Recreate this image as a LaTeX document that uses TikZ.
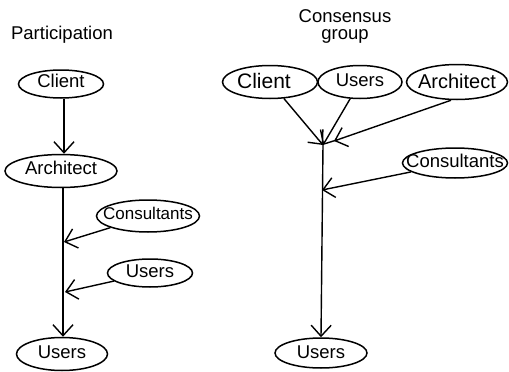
\documentclass[tikz,border=0pt]{standalone}
\usepackage{fontspec}
\setmainfont{Liberation Sans}
\usetikzlibrary{shapes.geometric,arrows.meta}

\begin{document}
\begin{tikzpicture}[x=1pt,y=-1pt,
    ruolo/.style={ellipse,draw,line width=1.5pt,inner sep=0pt},
    freccia/.style={line width=1.4pt,-{Straight Barb[length=11pt,width=20pt]}},
    titolo/.style={align=center,inner sep=0pt}]
  \fontsize{18.5}{17}\selectfont
  \useasboundingbox (0,0) rectangle (509,372);

  % ---- titoli --------------------------------------------------------------
  \node[titolo] (tP) at (62,35) {Participation};
  \node[titolo] (tC) at (345,26) {Consensus\\group};

  % ---- partecipazione ------------------------------------------------------
  \node[ruolo,minimum width=85,minimum height=28,label={[yshift=3pt]center:Client}]      (pCli) at (61,84)   {};
  \node[ruolo,minimum width=112,minimum height=33,label={[yshift=3pt]center:Architect}]  (pArc) at (61,171)  {};
  \node[ruolo,minimum width=103,minimum height=32,label={[yshift=3pt,font=\fontsize{17}{17}\selectfont]center:Consultants}] (pCon) at (148,216) {};
  \node[ruolo,minimum width=85,minimum height=28,label={[yshift=2pt]center:Users}]       (pUse) at (150,273) {};
  \node[ruolo,minimum width=91,minimum height=33,label={[yshift=2pt]center:Users}]       (pUsr) at (62,354)  {};

  \coordinate (m1) at (64,242);
  \coordinate (m2) at (65,292);

  \draw[freccia] ([xshift=3pt]pCli.south) -- ([xshift=3pt]pArc.north);
  \draw[freccia] ([xshift=2pt]pArc.south) -- ([xshift=1pt]pUsr.north);
  \draw[freccia] (pCon) -- (m1);
  \draw[freccia] (pUse) -- (m2);

  % ---- gruppo di consenso --------------------------------------------------
  \node[ruolo,minimum width=95,minimum height=33,label={[xshift=-6pt,yshift=1pt,font=\fontsize{21}{21}\selectfont]center:Client}] (cCli) at (270,82) {};
  \node[ruolo,minimum width=84,minimum height=33,label={[yshift=2pt]center:Users}]        (cUse) at (360,82)  {};
  \node[ruolo,minimum width=101,minimum height=35,label={[yshift=1pt,font=\fontsize{20}{20}\selectfont]center:Architect}] (cArc) at (457,82)  {};
  \node[ruolo,minimum width=105,minimum height=30,label={[yshift=2pt]center:Consultants}]  (cCon) at (455,163) {};
  \node[ruolo,minimum width=92,minimum height=30,label={[yshift=1pt]center:Users}]        (cUsr) at (321,353) {};

  \coordinate (k)  at (323,145);
  \coordinate (k2) at (334,141);
  \coordinate (k3) at (322,190);

  \draw[freccia] (cCli) -- (k);
  \draw[freccia] (cUse) -- (k);
  \draw[freccia] ([xshift=-6pt]cArc.south) -- (k2);
  \draw[freccia] (cCon) -- (k3);
  \draw[freccia] (k) -- (cUsr.north);
\end{tikzpicture}
\end{document}
